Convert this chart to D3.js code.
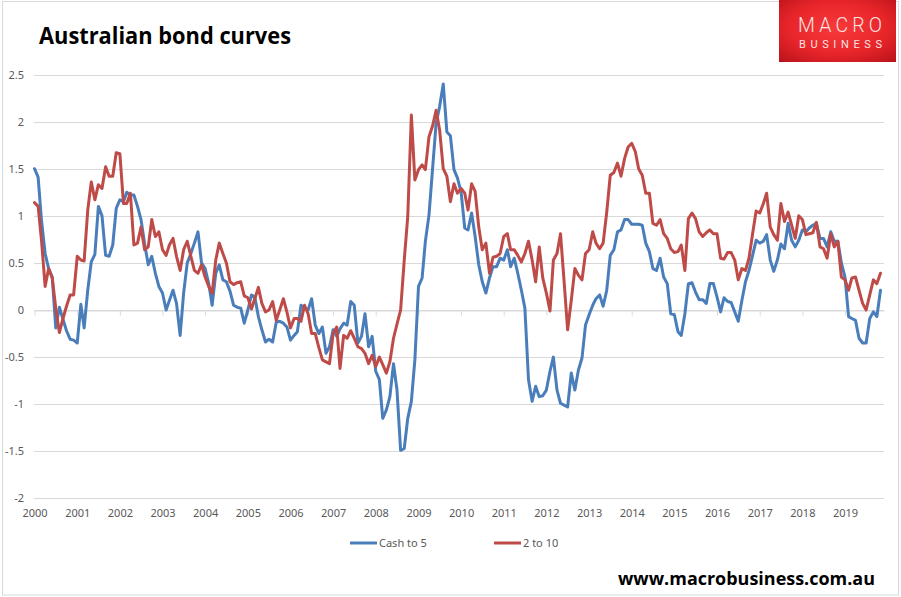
<!DOCTYPE html>
<html>
<head>
<meta charset="utf-8">
<script src="https://cdn.jsdelivr.net/npm/d3@7"></script>
<style>
  body { margin: 0; background: #fff; }
  svg { display: block; font-family: "Noto Sans", "Open Sans", sans-serif; }
</style>
</head>
<body>
<div id="chart"></div>
<script>
// Monthly observations, Jan 2000 .. Nov 2019
const startMonth = new Date(2000, 0, 1);
const endMonth = new Date(2019, 11, 1);
const yearTicks = d3.range(2000, 2020);
const yTicks = [-2, -1.5, -1, -0.5, 0, 0.5, 1, 1.5, 2, 2.5];
const seriesNames = ["Cash to 5", "2 to 10"];

const cashTo5 = [
  1.50, 1.41, 0.95, 0.60, 0.44, 0.35, -0.19, 0.03, -0.10, -0.22, -0.31, -0.32,
  -0.35, 0.06, -0.19, 0.21, 0.51, 0.59, 1.10, 1.00, 0.58, 0.57, 0.69, 1.08,
  1.17, 1.15, 1.25, 1.22, 1.22, 1.10, 0.96, 0.70, 0.48, 0.57, 0.39, 0.25,
  0.18, 0.00, 0.10, 0.21, 0.07, -0.27, 0.18, 0.50, 0.60, 0.71, 0.83, 0.50,
  0.44, 0.28, 0.05, 0.39, 0.48, 0.32, 0.30, 0.20, 0.05, 0.03, 0.02, -0.14,
  0.00, 0.16, 0.14, -0.07, -0.21, -0.34, -0.31, -0.34, -0.13, -0.12, -0.14, -0.18,
  -0.32, -0.27, -0.23, 0.05, 0.02, 0.00, 0.12, -0.16, -0.25, -0.18, -0.46, -0.39,
  -0.21, -0.28, -0.20, -0.14, -0.16, 0.09, 0.05, -0.35, -0.28, -0.04, -0.39, -0.28,
  -0.65, -0.74, -1.15, -1.06, -0.92, -0.57, -0.85, -1.49, -1.47, -1.15, -0.97, -0.53,
  0.25, 0.34, 0.73, 1.01, 1.49, 1.98, 2.16, 2.40, 1.89, 1.85, 1.49, 1.40,
  1.25, 0.87, 0.85, 1.03, 0.78, 0.48, 0.30, 0.18, 0.34, 0.46, 0.46, 0.55,
  0.53, 0.64, 0.46, 0.55, 0.39, 0.21, 0.02, -0.74, -0.97, -0.81, -0.92, -0.91,
  -0.85, -0.65, -0.50, -0.85, -0.99, -1.01, -1.03, -0.67, -0.85, -0.64, -0.51, -0.16,
  -0.05, 0.05, 0.12, 0.16, 0.04, 0.21, 0.58, 0.64, 0.83, 0.85, 0.96, 0.96,
  0.91, 0.91, 0.91, 0.90, 0.71, 0.62, 0.44, 0.42, 0.55, 0.35, 0.28, -0.04,
  -0.05, -0.23, -0.27, -0.04, 0.28, 0.29, 0.19, 0.11, 0.11, 0.07, 0.28, 0.28,
  0.14, -0.02, 0.13, 0.09, 0.08, -0.02, -0.12, 0.10, 0.30, 0.42, 0.58, 0.74,
  0.71, 0.73, 0.80, 0.53, 0.41, 0.53, 0.70, 0.65, 0.92, 0.74, 0.67, 0.74,
  0.85, 0.83, 0.87, 0.90, 0.92, 0.76, 0.76, 0.67, 0.83, 0.73, 0.73, 0.50,
  0.35, -0.07, -0.09, -0.11, -0.30, -0.35, -0.35, -0.09, -0.02, -0.07, 0.21
];

const twoTo10 = [
  1.14, 1.10, 0.74, 0.25, 0.44, 0.34, 0.02, -0.24, -0.09, 0.04, 0.16, 0.16,
  0.57, 0.53, 0.52, 1.06, 1.36, 1.17, 1.33, 1.29, 1.52, 1.42, 1.42, 1.67,
  1.66, 1.13, 1.13, 1.24, 0.69, 0.71, 0.88, 0.64, 0.67, 0.96, 0.78, 0.83,
  0.64, 0.58, 0.69, 0.76, 0.57, 0.42, 0.64, 0.73, 0.57, 0.42, 0.39, 0.48,
  0.35, 0.25, 0.18, 0.53, 0.71, 0.60, 0.50, 0.30, 0.27, 0.29, 0.30, 0.15,
  0.13, 0.01, 0.12, 0.24, 0.07, -0.02, 0.00, 0.09, -0.11, 0.00, 0.12, -0.02,
  -0.19, -0.09, -0.09, -0.12, 0.05, -0.04, -0.25, -0.25, -0.40, -0.53, -0.55, -0.57,
  -0.25, -0.18, -0.62, -0.27, -0.30, -0.22, -0.30, -0.39, -0.41, -0.46, -0.57, -0.48,
  -0.60, -0.50, -0.58, -0.67, -0.55, -0.30, -0.15, 0.00, 0.53, 0.99, 2.07, 1.38,
  1.49, 1.54, 1.49, 1.84, 1.95, 2.12, 1.91, 1.50, 1.42, 1.15, 1.34, 1.24,
  1.29, 1.24, 1.06, 1.34, 1.26, 0.88, 0.64, 0.71, 0.39, 0.56, 0.57, 0.60,
  0.78, 0.81, 0.64, 0.64, 0.58, 0.51, 0.60, 0.73, 0.53, 0.30, 0.67, 0.34,
  0.18, -0.01, 0.53, 0.60, 0.81, 0.30, -0.21, 0.10, 0.44, 0.37, 0.32, 0.60,
  0.64, 0.83, 0.71, 0.65, 0.71, 1.04, 1.43, 1.46, 1.56, 1.42, 1.61, 1.73,
  1.77, 1.68, 1.50, 1.43, 1.24, 1.24, 0.92, 0.90, 0.96, 0.81, 0.76, 0.65,
  0.61, 0.62, 0.69, 0.42, 0.97, 1.03, 0.97, 0.83, 0.78, 0.82, 0.85, 0.81,
  0.81, 0.55, 0.54, 0.61, 0.61, 0.53, 0.32, 0.44, 0.42, 0.55, 0.81, 1.05,
  1.03, 1.13, 1.24, 0.88, 0.80, 0.74, 1.13, 0.94, 1.04, 0.90, 0.76, 1.00,
  0.96, 0.80, 0.81, 0.82, 0.93, 0.67, 0.65, 0.55, 0.81, 0.67, 0.73, 0.35,
  0.32, 0.21, 0.34, 0.35, 0.21, 0.07, 0.00, 0.16, 0.32, 0.28, 0.39
];

const colors = ["#4a7ebb", "#be4b48"];
const width = 901, height = 597;

const svg = d3.select("#chart")
  .append("svg")
  .attr("width", width)
  .attr("height", height);

// outer frame of the chart area
svg.append("rect")
  .attr("x", 2.5).attr("y", 1.5)
  .attr("width", 896).attr("height", 593.5)
  .attr("fill", "none")
  .attr("stroke", "#d9d9d9");

const months = cashTo5.map((d, i) => d3.timeMonth.offset(startMonth, i));
const x = d3.scaleTime().domain([startMonth, endMonth]).range([34.5, 884]);
const y = d3.scaleLinear().domain([-2, 2.5]).range([498.4, 74.5]);

// horizontal gridlines
svg.append("g")
  .selectAll("line")
  .data(yTicks)
  .enter()
  .append("line")
  .attr("x1", 34).attr("x2", 884)
  .attr("y1", d => Math.round(y(d)) + 0.5)
  .attr("y2", d => Math.round(y(d)) + 0.5)
  .attr("stroke", "#d9d9d9")
  .attr("stroke-width", 1);

// horizontal axis line through zero, with yearly tick marks
const yearDates = yearTicks.map(yr => new Date(yr, 0, 1));
const zeroAxis = svg.append("g")
  .attr("transform", "translate(0," + (Math.round(y(0)) + 0.5) + ")")
  .call(d3.axisBottom(x).tickValues(yearDates).tickSize(5).tickSizeOuter(0).tickFormat(""));
zeroAxis.selectAll("path, line").attr("stroke", "#d9d9d9");

// year labels placed low, under the plot
const xLabels = svg.append("g")
  .attr("transform", "translate(0," + y(-2) + ")")
  .call(d3.axisBottom(x).tickValues(yearDates).tickSize(0).tickPadding(11)
    .tickFormat(d3.timeFormat("%Y")));
xLabels.select(".domain").remove();
xLabels.selectAll("text")
  .attr("fill", "#595959")
  .style("font-size", "11px")
  .style("font-family", "'Noto Sans', sans-serif");

// value labels
const yLabels = svg.append("g")
  .attr("transform", "translate(24,0)")
  .call(d3.axisLeft(y).tickValues(yTicks).tickSize(0).tickPadding(0)
    .tickFormat(d => String(d)));
yLabels.select(".domain").remove();
yLabels.selectAll("text")
  .attr("fill", "#595959")
  .style("font-size", "11px")
  .style("font-family", "'Noto Sans', sans-serif");

// the two curves
const line = d3.line()
  .x((d, i) => x(months[i]))
  .y(d => y(d));

[cashTo5, twoTo10].forEach(function (values, k) {
  svg.append("path")
    .datum(values)
    .attr("fill", "none")
    .attr("stroke", colors[k])
    .attr("stroke-width", 3)
    .attr("stroke-linejoin", "round")
    .attr("stroke-linecap", "round")
    .attr("d", line);
});

// legend
const legendX = [350, 494];
const legend = svg.selectAll(".legend-key")
  .data(seriesNames)
  .enter()
  .append("g")
  .attr("class", "legend-key")
  .attr("transform", (d, i) => "translate(" + legendX[i] + ",543)");
legend.append("line")
  .attr("x1", 0).attr("x2", 27)
  .attr("stroke", (d, i) => colors[i])
  .attr("stroke-width", 3);
legend.append("text")
  .attr("x", 29)
  .attr("dy", "0.35em")
  .attr("fill", "#595959")
  .style("font-size", "11px")
  .text(d => d);

// title
svg.append("text")
  .attr("x", 39).attr("y", 44)
  .attr("textLength", 252)
  .attr("lengthAdjust", "spacingAndGlyphs")
  .style("font-family", "'Open Sans', sans-serif")
  .style("font-weight", 700)
  .style("font-size", "23px")
  .attr("fill", "#000")
  .text("Australian bond curves");

// site address
svg.append("text")
  .attr("x", 618).attr("y", 585)
  .attr("textLength", 257)
  .attr("lengthAdjust", "spacingAndGlyphs")
  .style("font-family", "'Open Sans', sans-serif")
  .style("font-weight", 700)
  .style("font-size", "18.5px")
  .attr("fill", "#000")
  .text("www.macrobusiness.com.au");

// logo
const defs = svg.append("defs");
const grad = defs.append("radialGradient")
  .attr("id", "logoGrad")
  .attr("cx", "50%").attr("cy", "45%").attr("r", "75%");
grad.append("stop").attr("offset", "0%").attr("stop-color", "#f73a3a");
grad.append("stop").attr("offset", "55%").attr("stop-color", "#e8262a");
grad.append("stop").attr("offset", "100%").attr("stop-color", "#b8111a");

svg.append("rect")
  .attr("x", 779).attr("y", 0)
  .attr("width", 117).attr("height", 62)
  .attr("fill", "url(#logoGrad)");
svg.append("text")
  .attr("x", 798).attr("y", 32)
  .attr("textLength", 84)
  .attr("lengthAdjust", "spacing")
  .style("font-family", "'Roboto', 'Noto Sans', sans-serif")
  .style("font-weight", 300)
  .style("font-size", "19.5px")
  .attr("fill", "#fbe3e3")
  .text("MACRO");
svg.append("text")
  .attr("x", 799).attr("y", 48)
  .attr("textLength", 83)
  .attr("lengthAdjust", "spacing")
  .style("font-family", "'Roboto', 'Noto Sans', sans-serif")
  .style("font-weight", 400)
  .style("font-size", "11px")
  .attr("fill", "#fbe3e3")
  .text("BUSINESS");
</script>
</body>
</html>
